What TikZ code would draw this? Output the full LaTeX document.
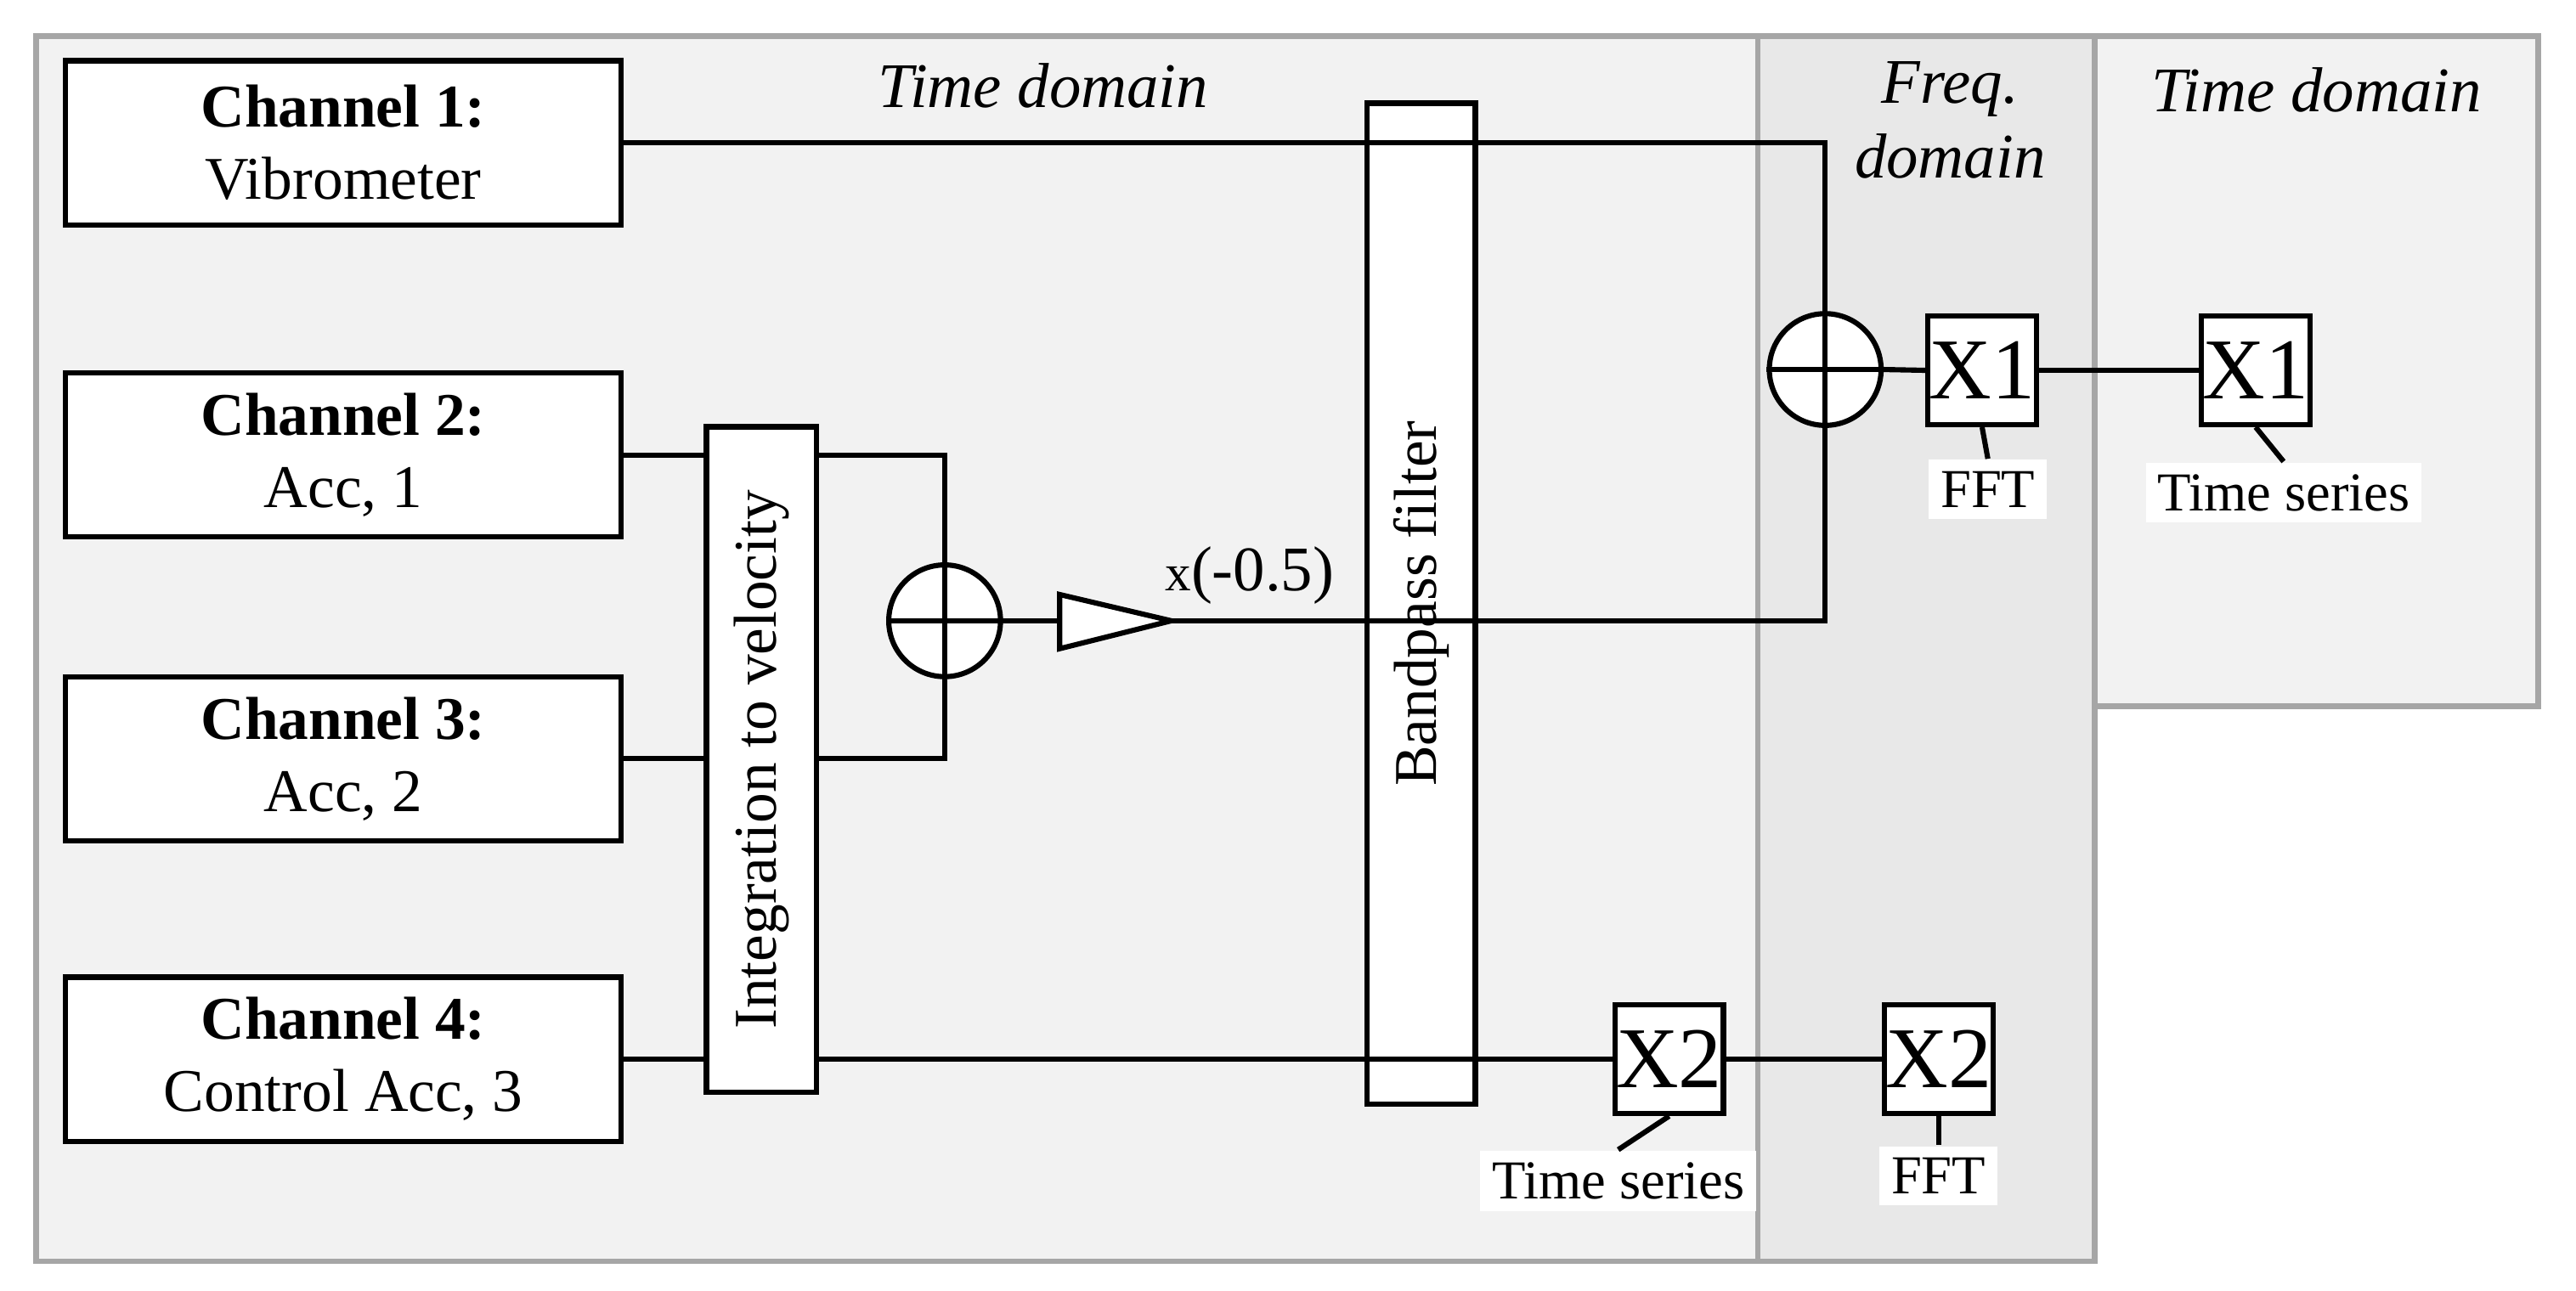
\documentclass[tikz,border=0pt]{standalone}
\usepackage{fontspec}
\setmainfont{Liberation Serif}
\begin{document}
\begin{tikzpicture}[x=0.01cm,y=-0.01cm,
  box/.style={draw,line width=0.9pt,fill=white,inner sep=0pt,align=center},
  sum/.style={draw,circle,line width=0.9pt,fill=white,minimum size=0.68cm,inner sep=0pt},
  xb/.style={draw,line width=0.9pt,fill=white,minimum size=0.66cm,inner sep=0pt,font=\fontsize{15}{16}\selectfont},
  lab/.style={fill=white,inner sep=2pt,font=\fontsize{9.5}{11}\selectfont},
  ln/.style={line width=0.9pt},
  reg/.style={draw=gray!70,line width=1pt}]
\fontsize{10.5}{12.5}\selectfont
\useasboundingbox (0,0) rectangle (1568,786);
% regions
\draw[reg,fill=black!5] (22,22) rectangle (1070,768);
\draw[reg,fill=black!9] (1070,22) rectangle (1275,768);
\draw[reg,fill=black!5] (1275,22) rectangle (1545,430);
\node[font=\itshape\fontsize{11}{12}\selectfont] (td1) at (635,52) {Time domain};
\node[font=\itshape\fontsize{11}{13}\selectfont,align=center] (fd) at (1187,73) {Freq.\\domain};
\node[font=\itshape\fontsize{11}{12}\selectfont] (td2) at (1410,55) {Time domain};
% channels
\node[box,minimum width=3.38cm,minimum height=1cm] (c1) at (209,87) {\textbf{Channel 1:}\\Vibrometer};
\node[box,minimum width=3.38cm,minimum height=1cm] (c2) at (209,277) {\textbf{Channel 2:}\\Acc, 1};
\node[box,minimum width=3.38cm,minimum height=1cm] (c3) at (209,462) {\textbf{Channel 3:}\\Acc, 2};
\node[box,minimum width=3.38cm,minimum height=1cm] (c4) at (209,645) {\textbf{Channel 4:}\\Control Acc, 3};
% integration
\node[box,minimum width=4.05cm,minimum height=0.67cm,rotate=90] (int) at (463.5,462.5) {Integration to velocity};
% sum 1
\node[sum] (s1) at (575,378) {};
\draw[ln] (s1.north)--(s1.south) (s1.west)--(s1.east);
% amplifier
\coordinate (ain) at (645,378);
\coordinate (aout) at (713,378);
\draw[ln,fill=white] (645,362)--(713,378)--(645,395)--cycle;
\node[anchor=south west,inner sep=1pt] (gain) at (705,372) {\fontsize{9}{10}\selectfont x\fontsize{11}{12}\selectfont(-0.5)};
% bandpass
\node[box,minimum width=6.09cm,minimum height=0.66cm,rotate=90] (bp) at (865,367.5) {Bandpass filter};
% sum 2
\node[sum] (s2) at (1111,225) {};
\draw[ln] (s2.north)--(s2.south) (s2.west)--(s2.east);
% X boxes
\node[xb] (x1f) at (1206.5,225.5) {X1};
\node[xb] (x1t) at (1373,225.5) {X1};
\node[xb] (x2t) at (1016,645) {X2};
\node[xb] (x2f) at (1180,645) {X2};
\node[lab] (l1f) at (1210,298) {FFT};
\node[lab] (l1t) at (1390,300) {Time series};
\node[lab] (l2t) at (985,719) {Time series};
\node[lab] (l2f) at (1180,716) {FFT};
\draw[ln] (x1f.south)--(l1f.north);
\draw[ln] (x1t.south)--(l1t.north);
\draw[ln] (x2t.south)--(l2t.north);
\draw[ln] (x2f.south)--(l2f.north);
% connections
\draw[ln] (c1.east)--(c1.east-|bp.south);
\draw[ln] (c1.east-|bp.north)-|(s2.north);
\draw[ln] (c2.east)--(c2.east-|int.north);
\draw[ln] (c3.east)--(c3.east-|int.north);
\draw[ln] (c4.east)--(c4.east-|int.north);
\draw[ln] (c2.east-|int.south)-|(s1.north);
\draw[ln] (c3.east-|int.south)-|(s1.south);
\draw[ln] (s1.east)--(ain);
\draw[ln] (aout)--(aout-|bp.south);
\draw[ln] (aout-|bp.north)-|(s2.south);
\draw[ln] (s2.east)--(x1f.west);
\draw[ln] (x1f.east)--(x1t.west);
\draw[ln] (c4.east-|int.south)--(c4.east-|bp.south);
\draw[ln] (c4.east-|bp.north)--(x2t.west);
\draw[ln] (x2t.east)--(x2f.west);
\end{tikzpicture}
\end{document}
